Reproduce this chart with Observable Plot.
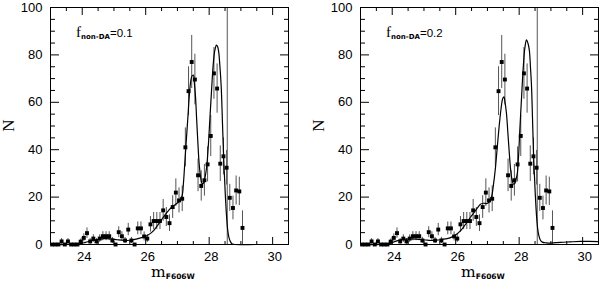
<!DOCTYPE html>
<html>
<head>
<meta charset="utf-8">
<script src="https://cdn.jsdelivr.net/npm/d3@7"></script>
<script src="https://cdn.jsdelivr.net/npm/@observablehq/plot@0.6"></script>
<style>
  html, body { margin: 0; padding: 0; background: white; }
  #wrap { display: flex; width: 600px; height: 281px; }
</style>
</head>
<body>
<div id="wrap"></div>
<script>
// Observed white-dwarf luminosity function (same in both panels)
const mag = [23.05,23.15,23.25,23.35,23.45,23.55,23.65,23.75,23.85,23.95,
  24.05,24.15,24.25,24.35,24.45,24.55,24.65,24.75,24.85,24.95,
  25.05,25.15,25.25,25.35,25.45,25.55,25.65,25.75,25.85,25.95,
  26.05,26.15,26.25,26.35,26.45,26.55,26.65,26.75,26.85,26.95,
  27.05,27.15,27.25,27.35,27.45,27.55,27.65,27.75,27.85,27.95,
  28.05,28.15,28.25,28.35,28.45,28.55,28.65,28.75,28.85,28.95,29.05];
const counts = [0,0,0,1.3,0,1.3,0,0,0,1.2,
  2.8,4.8,1.3,2.5,1.3,2.5,3.5,3.5,3.5,1.7,
  0,5.2,3.5,1.7,6.3,1.7,0,6.8,6.8,3.4,
  2.5,8.5,9.9,9.9,9.9,14.4,11.6,9.0,15.8,21.9,
  18.6,19.3,41.0,64.7,77.0,69.6,29.2,24.7,27.1,33.8,
  45.8,72.2,65.8,34.1,37.2,32.4,19.7,15.4,22.8,22.4,7.0];
const errors = [0,0,0,1.2,0,1.2,0,0,0,1.1,
  1.7,2.2,1.2,1.6,1.2,1.6,1.9,1.9,1.9,1.3,
  0,2.3,1.9,1.3,2.6,1.3,0,2.7,2.7,1.9,
  1.6,3.3,3.6,3.6,3.6,4.6,4.0,3.5,4.8,5.8,
  5.3,5.4,8.2,10.3,11.2,10.7,6.9,6.4,6.7,7.4,
  8.7,10.9,10.4,7.5,7.8,7.3,5.7,5.0,6.1,6.0,7.2];

// Model curve, f_non-DA = 0.1
const modelMagA = [23.0,23.6,23.9,24.1,24.3,24.5,24.7,24.9,25.1,25.3,25.5,25.7,25.9,26.05,26.2,26.35,26.5,26.65,26.8,26.95,27.08,
  27.15,27.19,27.23,27.28,27.33,27.37,27.41,27.455,27.5,27.535,27.57,27.605,27.64,27.685,27.73,27.77,27.81,27.865,27.92,27.97,
  28.02,28.075,28.13,28.18,28.23,28.265,28.3,28.34,28.38,28.42,28.46,28.505,28.55,28.585,28.62,28.67,28.73,28.8,29.5,30.5];
const modelNA = [0,0,0.3,0.9,1.6,2.2,2.5,2.4,2.0,1.7,1.8,2.3,3.0,3.8,5.2,7.6,10.5,13.2,15.5,17.0,18.5,
  20.7,26,34,44,53.8,62,68,71,71.5,68,62.3,53,44,34,28.5,26,25.7,28,32.7,41,
  52.4,65,76.4,82,84.1,83.5,81.3,75,66.5,51,35.5,22,11.5,6,3.1,1.2,0.2,0,0,0];

// Model curve, f_non-DA = 0.2
const modelMagB = [23.0,23.6,23.95,24.1,24.26,24.42,24.58,24.75,24.89,25.05,25.2,25.35,25.52,25.68,25.84,26.05,26.15,26.26,26.37,26.47,26.58,26.68,26.78,26.88,26.99,27.07,
  27.13,27.18,27.25,27.31,27.37,27.43,27.48,27.52,27.56,27.6,27.645,27.69,27.735,27.78,27.82,27.86,27.9,27.94,27.98,
  28.02,28.075,28.13,28.18,28.23,28.275,28.32,28.355,28.39,28.425,28.46,28.505,28.55,28.585,28.62,28.67,28.73,28.85,29.0,29.3,29.6,29.93,30.2,30.5];
const modelNB = [0,0,0.6,1.3,2.0,2.3,2.4,2.3,2.1,1.9,1.7,1.8,2.0,2.4,2.9,4.5,5.8,7.6,9.6,11.6,13.5,15.3,17.0,17.4,17.3,18.2,
  20,24.2,32,41.1,50,57.4,61.5,62.3,59.5,55.3,47,38.4,31,27,25.5,25.7,27.5,29.9,37,
  48.2,62,75,83,86.3,85,82,75,66.5,51,35.5,22,11.6,6.5,3.8,1.8,1.0,0.7,0.6,0.9,1.1,1.3,1.3,1.2];

const completenessLimit = 28.57;
const panelLabels = ["0.1", "0.2"];
const xMajor = [24, 26, 28, 30];
const xMinor = [23.5, 24.5, 25, 25.5, 26.5, 27, 27.5, 28.5, 29, 29.5];
const yMajor = [0, 20, 40, 60, 80, 100];
const yMinor = [5, 10, 15, 25, 30, 35, 45, 50, 55, 65, 70, 75, 85, 90, 95];

const obs = mag.map((m, i) => ({m, n: counts[i], e: errors[i]}));
const obsErr = obs.filter(d => d.e > 0);

// inward ticks: the tick shape of the opposite side, anchored at this side
function inwardTicks(xMaj, xMin, yMaj, yMin) {
  const none = () => "";
  return [
    Plot.axisX(xMin, {anchor: "top", frameAnchor: "bottom", tickSize: 4, tickFormat: none, label: null}),
    Plot.axisX(xMaj, {anchor: "top", frameAnchor: "bottom", tickSize: 8, tickFormat: none, label: null}),
    Plot.axisX(xMin, {anchor: "bottom", frameAnchor: "top", tickSize: 4, tickFormat: none, label: null}),
    Plot.axisX(xMaj, {anchor: "bottom", frameAnchor: "top", tickSize: 8, tickFormat: none, label: null}),
    Plot.axisY(yMin, {anchor: "right", frameAnchor: "left", tickSize: 4, tickFormat: none, label: null}),
    Plot.axisY(yMaj, {anchor: "right", frameAnchor: "left", tickSize: 8, tickFormat: none, label: null}),
    Plot.axisY(yMin, {anchor: "left", frameAnchor: "right", tickSize: 4, tickFormat: none, label: null}),
    Plot.axisY(yMaj, {anchor: "left", frameAnchor: "right", tickSize: 8, tickFormat: none, label: null})
  ];
}

function panel(modelMag, modelN, fLabel, ml, mr) {
  const model = modelMag.map((m, i) => ({m, n: modelN[i]}));
  const fig = Plot.plot({
    width: 300, height: 281,
    marginLeft: ml, marginRight: mr, marginTop: 7, marginBottom: 37,
    x: {domain: [23, 30.5]},
    y: {domain: [0, 100]},
    style: {fontFamily: "'Liberation Sans', Arial, sans-serif", fontSize: "13px", background: "white", color: "black", overflow: "visible"},
    marks: [
      Plot.ruleX([completenessLimit], {stroke: "#555", strokeWidth: 1}),
      Plot.ruleX(obsErr, {x: "m", y1: d => d.n - d.e, y2: d => Math.min(100, d.n + d.e), stroke: "#555", strokeWidth: 1}),
      Plot.line(model, {x: "m", y: "n", stroke: "black", strokeWidth: 1.2, curve: "catmull-rom"}),
      Plot.dot(obs, {x: "m", y: "n", symbol: "square", fill: "black", r: 2.2}),
      Plot.frame({stroke: "black", strokeWidth: 1}),
      ...inwardTicks(xMajor, xMinor, yMajor, yMinor),
      // tick labels
      Plot.axisX(xMajor, {anchor: "bottom", tickSize: 0, tickPadding: 7, dx: 2, label: null}),
      Plot.axisY(yMajor, {anchor: "left", tickSize: 0, tickPadding: 8, label: null})
    ]
  });
  const svg = d3.select(fig);
  const xs = fig.scale("x"), ys = fig.scale("y");
  const x0 = xs.range[0], x1 = xs.range[1];
  const yTop = ys.range[1], yBot = ys.range[0];
  // y-axis title
  svg.append("text")
    .attr("transform", `translate(${x0 - 42},${(yTop + yBot) / 2}) rotate(-90)`)
    .attr("text-anchor", "middle").attr("dy", "0.35em")
    .attr("font-family", "'Liberation Serif', 'DejaVu Serif', serif").attr("font-size", 17)
    .attr("fill", "black").text("N");
  // x-axis title with subscript
  const xt = svg.append("text")
    .attr("x", (x0 + x1) / 2 + 4).attr("y", yBot + 33.2)
    .attr("text-anchor", "middle").attr("fill", "black");
  xt.append("tspan").attr("font-family", "'DejaVu Serif', 'Liberation Serif', serif").attr("font-size", 15.5).text("m");
  xt.append("tspan").attr("font-family", "'DejaVu Sans', sans-serif").attr("font-weight", "bold").attr("font-size", 7.5).attr("dy", 1.5).text("F606W");
  // annotation
  const at = svg.append("text")
    .attr("x", x0 + 26).attr("y", yTop + 30).attr("fill", "black")
    .attr("text-anchor", "start");
  at.append("tspan").attr("font-family", "'Liberation Serif', 'DejaVu Serif', serif").attr("font-size", 15).text("f");
  at.append("tspan").attr("font-family", "'DejaVu Sans', sans-serif").attr("font-weight", "bold").attr("font-size", 7).attr("dy", 2).text("non-DA");
  at.append("tspan").attr("font-family", "'Liberation Sans', Arial, sans-serif").attr("font-size", 11.5).attr("dy", -2).text("=" + fLabel);
  return fig;
}

const wrap = document.getElementById("wrap");
wrap.appendChild(panel(modelMagA, modelNA, panelLabels[0], 50, 12));
wrap.appendChild(panel(modelMagB, modelNB, panelLabels[1], 60, 2));
</script>
</body>
</html>
